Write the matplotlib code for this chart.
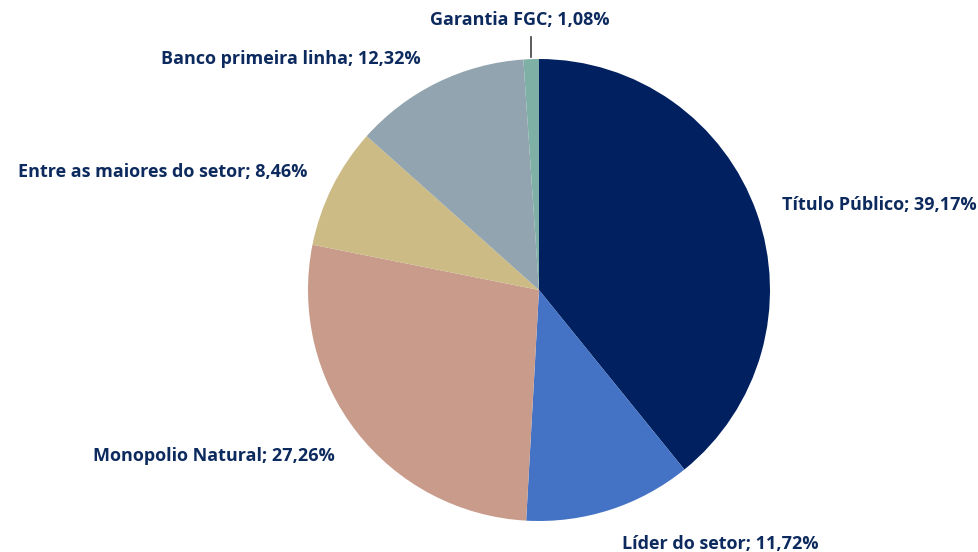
import numpy as np
import matplotlib
matplotlib.use("Agg")
import matplotlib.pyplot as plt

categories = ["Título Público", "Líder do setor", "Monopolio Natural",
              "Entre as maiores do setor", "Banco primeira linha", "Garantia FGC"]
values = [39.17, 11.72, 27.26, 8.46, 12.32, 1.08]
value_labels = ["39,17%", "11,72%", "27,26%", "8,46%", "12,32%", "1,08%"]
colors = ["#002060", "#4472C4", "#C99B8A", "#CDBB85", "#91A4AF", "#7FB0A6"]

W, H = 979, 552
fig = plt.figure(figsize=(W / 100, H / 100), dpi=100)
ax = fig.add_axes([0, 0, 1, 1])

cx, cy, R = 539, H - 290, 231
wedges, _ = ax.pie(values, colors=colors, startangle=90, counterclock=False,
                   center=(cx, cy), radius=R, frame=True,
                   wedgeprops=dict(linewidth=0))
ax.set_xlim(0, W)
ax.set_ylim(0, H)
ax.set_aspect("equal")
ax.axis("off")

txtcol = "#0D2A5E"
# per-label placement: (radial distance factor, ha, dx, dy)
place = [
    (1.07, "left", 10, 2),
    (1.10, "left", 5, -12),
    (1.10, "right", -3, -10),
    (1.08, "right", -8, 7),
    (1.07, "right", -10, 9),
    (1.00, "center", -11, 39),
]
for w, cat, vl, (d, ha, dx, dy) in zip(wedges, categories, value_labels, place):
    ang = np.deg2rad((w.theta1 + w.theta2) / 2)
    x = cx + d * R * np.cos(ang) + dx
    y = cy + d * R * np.sin(ang) + dy
    ax.text(x, y, f"{cat}; {vl}", ha=ha, va="center", color=txtcol,
            fontsize=13, fontweight="bold", family=["Open Sans", "DejaVu Sans"])

# leader line for FGC
w = wedges[-1]
ang = np.deg2rad((w.theta1 + w.theta2) / 2)
x0 = cx + R * np.cos(ang)
y0 = cy + R * np.sin(ang)
ax.plot([x0, x0], [y0 + 2, y0 + 22], color="#404040", lw=1.2)

fig.savefig("out.png", dpi=100, facecolor="white")
